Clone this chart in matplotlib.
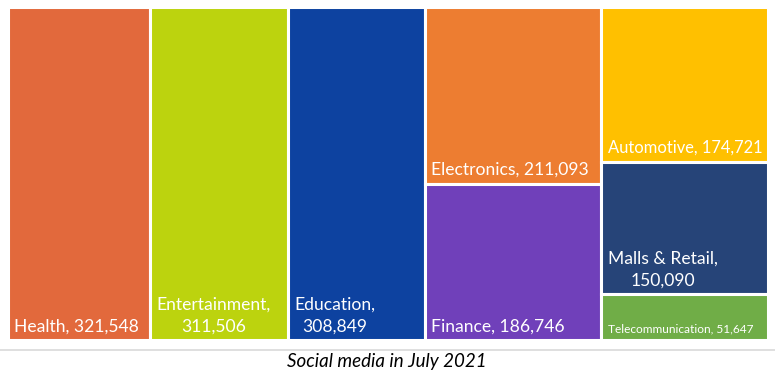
import matplotlib
matplotlib.use("Agg")
import matplotlib.pyplot as plt
from matplotlib.patches import Rectangle
from matplotlib.lines import Line2D

categories = ["Health", "Entertainment", "Education", "Electronics", "Finance",
              "Automotive", "Malls & Retail", "Telecommunication"]
values = [321548, 311506, 308849, 211093, 186746, 174721, 150090, 51647]
colors = ["#E2693C", "#BCD30E", "#0D42A0", "#ED7D31", "#7040BA",
          "#FFC000", "#264478", "#70AD47"]
# label text as shown (line breaks where the chart wraps)
labels = ["Health, 321,548", "Entertainment,\n311,506", "Education,\n308,849",
          "Electronics, 211,093", "Finance, 186,746", "Automotive, 174,721",
          "Malls & Retail,\n150,090", "Telecommunication, 51,647"]
font_sizes = [12.6, 12.6, 12.6, 12.6, 12.6, 11.9, 12.6, 8.6]
# column grouping of the treemap (indices into the lists above)
columns = [[0], [1], [2], [3, 4], [5, 6, 7]]

plt.rcParams['font.family'] = ['Lato', 'DejaVu Sans']

W, H = 775, 380
fig = plt.figure(figsize=(W / 100, H / 100), dpi=100)
left, right, top, bottom = 8, 768, 7, 340
ax = fig.add_axes([left / W, 1 - bottom / H, (right - left) / W, (bottom - top) / H])
ax.set_xlim(0, 1)
ax.set_ylim(1, 0)
ax.axis("off")

total = sum(values)
x0 = 0.0
for col in columns:
    csum = sum(values[i] for i in col)
    cw = csum / total
    y0 = 0.0
    for i in col:
        h = values[i] / csum
        ax.add_patch(Rectangle((x0, y0), cw, h, facecolor=colors[i],
                               edgecolor="white", linewidth=2.2))
        ax.annotate(labels[i], xy=(x0, y0 + h), xytext=(4.5, 4.2),
                    textcoords="offset points", ha="left", va="bottom",
                    multialignment="center", color="white",
                    fontsize=font_sizes[i], linespacing=1.45)
        y0 += h
    x0 += cw

fig.add_artist(Line2D([0, 1], [1 - 350 / H, 1 - 350 / H], color="#D9D9D9",
                      linewidth=1.2, transform=fig.transFigure))
fig.text(387 / W, 1 - 362 / H, "Social media in July 2021", ha="center",
         va="center", style="italic", fontsize=13.5, color="black")

fig.savefig("out.png", dpi=100)
